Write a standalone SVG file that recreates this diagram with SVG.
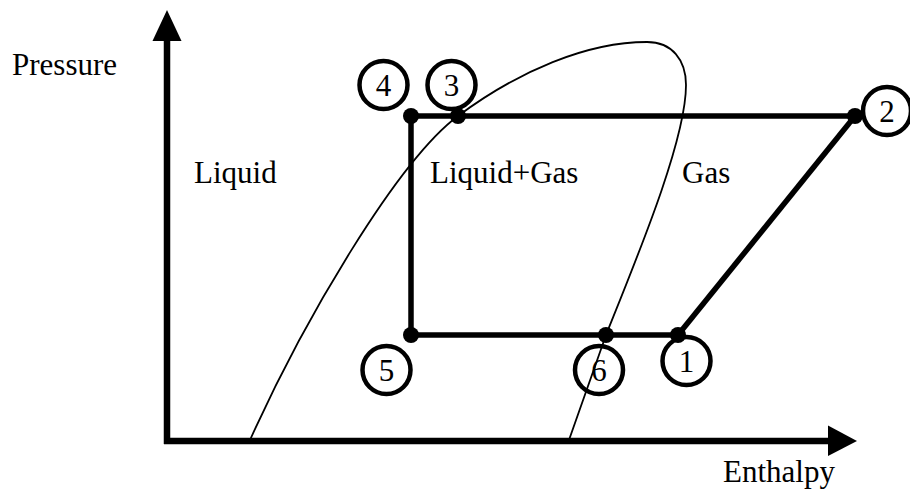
<svg xmlns="http://www.w3.org/2000/svg" width="910" height="491" viewBox="0 0 910 491">
  <style>
    text { font-family: "Liberation Serif", "Times New Roman", serif; font-size: 31px; fill: #000; }
    .num { text-anchor: middle; }
    .ring { fill: none; stroke: #000; stroke-width: 4.5; }
    .dot { fill: #000; }
    .cycle { fill: none; stroke: #000; stroke-width: 5.5; stroke-linecap: butt; }
    .axis { fill: none; stroke: #000; stroke-width: 6.5; }
    .dome { fill: none; stroke: #000; stroke-width: 1.8; }
  </style>

  <!-- axes -->
  <g id="axes">
    <line class="axis" x1="167" y1="444" x2="167" y2="38"/>
    <polygon points="167,10 152.5,41 181.5,41"/>
    <line class="axis" x1="164" y1="441" x2="830" y2="441"/>
    <polygon points="857,441 828,425.5 828,456"/>
    <text x="12" y="75">Pressure</text>
    <text x="723" y="482">Enthalpy</text>
  </g>

  <!-- saturation dome -->
  <path id="dome" class="dome" d="M250,440 C304,320 397.5,161 458,116 C518.5,71 587,42 647,42 C672,42 686,60 686,85 C686,140 638,255 606,335 L569,440"/>

  <!-- region labels -->
  <g id="regions">
    <text x="194" y="183">Liquid</text>
    <text x="430" y="183">Liquid+Gas</text>
    <text x="682" y="183">Gas</text>
  </g>

  <!-- cycle connectors -->
  <g id="connectors">
    <line class="cycle" x1="411" y1="116" x2="855" y2="116"/>
    <line class="cycle" x1="411" y1="116" x2="411" y2="335"/>
    <line class="cycle" x1="411" y1="335" x2="678" y2="335"/>
    <line class="cycle" x1="678" y1="335" x2="855" y2="116"/>
  </g>

  <!-- state points -->
  <g id="state-1">
    <circle class="dot" cx="678" cy="335" r="8"/>
    <circle class="ring" cx="686.5" cy="361" r="24"/>
    <text class="num" x="686.5" y="372">1</text>
  </g>
  <g id="state-2">
    <circle class="dot" cx="855" cy="116" r="8"/>
    <circle class="ring" cx="887" cy="111" r="24"/>
    <text class="num" x="887" y="122">2</text>
  </g>
  <g id="state-3">
    <circle class="dot" cx="458" cy="116" r="8"/>
    <circle class="ring" cx="451.5" cy="85" r="24"/>
    <text class="num" x="451.5" y="96">3</text>
  </g>
  <g id="state-4">
    <circle class="dot" cx="411" cy="116" r="8"/>
    <circle class="ring" cx="383.5" cy="85" r="24"/>
    <text class="num" x="383.5" y="96">4</text>
  </g>
  <g id="state-5">
    <circle class="dot" cx="411" cy="335" r="8"/>
    <circle class="ring" cx="386.5" cy="370" r="24"/>
    <text class="num" x="386.5" y="381">5</text>
  </g>
  <g id="state-6">
    <circle class="dot" cx="606" cy="335" r="8"/>
    <circle class="ring" cx="599" cy="370" r="24"/>
    <text class="num" x="599" y="381">6</text>
  </g>
</svg>
